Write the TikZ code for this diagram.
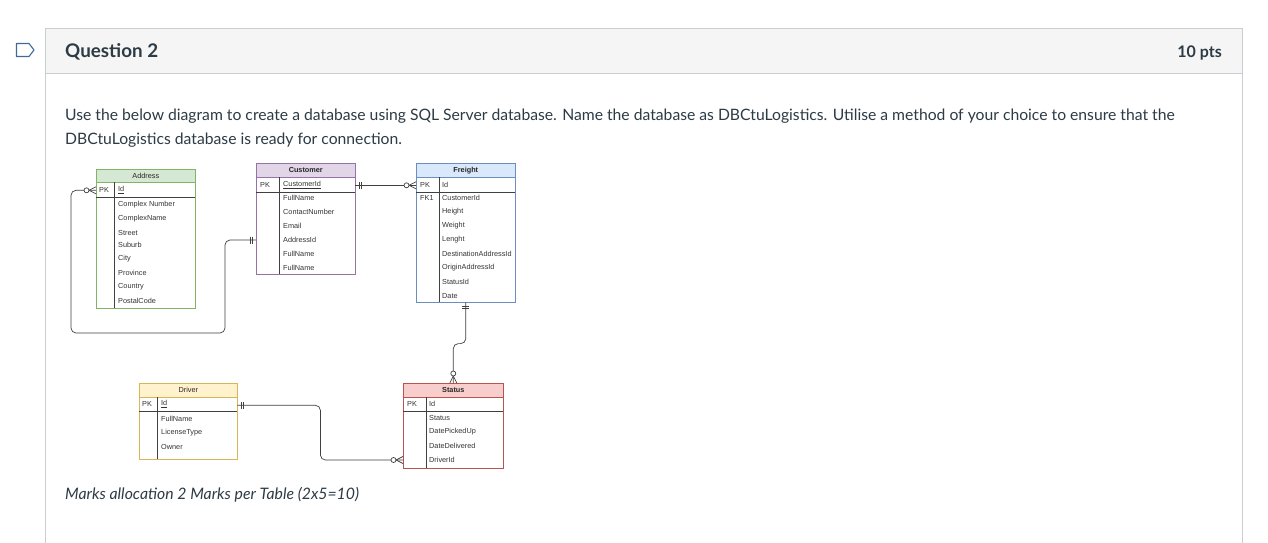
\documentclass[tikz,border=0pt]{standalone}
\usepackage{fontspec}
\setmainfont{Lato}
\newfontfamily\erdfont{Liberation Sans}
\usetikzlibrary{positioning}

\definecolor{inkgray}{HTML}{2D3B45}
\definecolor{framegray}{HTML}{C7CDD1}
\definecolor{bandgray}{HTML}{F5F5F5}
\definecolor{iconblue}{HTML}{3E6C96}
\definecolor{adrfill}{HTML}{D5E8D4}\definecolor{adrline}{HTML}{82B366}
\definecolor{cusfill}{HTML}{E1D5E7}\definecolor{cusline}{HTML}{9673A6}
\definecolor{frtfill}{HTML}{DAE8FC}\definecolor{frtline}{HTML}{6C8EBF}
\definecolor{drvfill}{HTML}{FFF2CC}\definecolor{drvline}{HTML}{D6B656}
\definecolor{stsfill}{HTML}{F8CECC}\definecolor{stsline}{HTML}{B85450}

\newcommand\erdsize{\erdfont\fontsize{7.3}{8}\selectfont}

\tikzset{
  frame/.style={draw=framegray, line width=1pt},
  tbox/.style={draw, line width=0.6pt, inner sep=0pt, anchor=north west},
  thead/.style={draw, line width=0.6pt, inner sep=0pt, anchor=north west,
                font=\erdsize, text=black!85},
  krow/.style={inner sep=0pt, anchor=north west, minimum height=15pt},
  ftext/.style={anchor=west, inner sep=0pt, font=\erdsize, text=black!80},
  rule/.style={draw=black!75, line width=0.7pt},
  conn/.style={draw=black!75, line width=0.7pt, rounded corners=5pt},
  zmany/.pic={
    \draw[black!75, line width=0.7pt] (-7,0) -- (0,3.5) (-7,0) -- (0,-3.5);
    \draw[black!75, line width=0.7pt, fill=white] (-9.5,0) circle (2.5pt);
  },
  one/.pic={
    \draw[black!75, line width=0.7pt] (-3.5,-3.5) -- (-3.5,3.5)
                                      (-5.8,-3.5) -- (-5.8,3.5);
  }
}

\begin{document}
\begin{tikzpicture}[x=1pt, y=-1pt]
  \useasboundingbox[fill=white] (0,0) rectangle (1268,543);

  % question frame
  \draw[frame, fill=bandgray] (45,29) rectangle (1242,73);
  \draw[frame] (45,73) -- (45,543) (1242,73) -- (1242,543);
  \draw[iconblue, line width=1.1pt, line join=round]
    (16.5,43.5) -- (29,43.5) -- (34,50) -- (29,56.5) -- (16.5,56.5) -- cycle;

  \node[anchor=base west, inner sep=0pt, text=inkgray,
        font=\fontsize{18.8}{20}\selectfont\bfseries] (qtitle) at (65,58) {Question 2};
  \node[anchor=base east, inner sep=0pt, text=inkgray,
        font=\fontsize{16}{18}\selectfont\bfseries] (qpts) at (1222,57) {10 pts};

  \node[anchor=base west, inner sep=0pt, align=left, text=inkgray,
        font=\fontsize{15.7}{24}\selectfont] (qtext) at (65,144.5)
    {Use the below diagram to create a database using SQL Server database. Name the database as DBCtuLogistics. Utilise a method of your choice to ensure that the\\
     DBCtuLogistics database is ready for connection.};

  \node[anchor=base west, inner sep=0pt, text=inkgray,
        font=\fontsize{15.8}{18}\selectfont\itshape] (qmarks) at (65,499)
    {Marks allocation 2 Marks per Table (2x5=10)};

  % Address
  \node[tbox, draw=adrline, minimum width=99pt, minimum height=139pt] (adr) at (96,169) {};
  \node[thead, draw=adrline, fill=adrfill, minimum width=99pt, minimum height=13pt] (adr-hd) at (adr.north west) {Address};
  \node[krow, minimum width=99pt] (adr-key) at (adr-hd.south west) {};
  \node[ftext] at (99,190) {PK};
  \node[ftext] at (118,190) {\underline{Id}};
  \draw[rule] (96,197) -- (195,197) (114,182) -- (114,308);
  \foreach \y/\f in {205/Complex Number, 219/ComplexName, 233/Street, 245/Suburb,
                     259/City, 273/Province, 287/Country, 301/PostalCode}
    \node[ftext] at (118,\y) {\f};

  % Customer
  \node[tbox, draw=cusline, minimum width=99pt, minimum height=111pt] (cus) at (256,163) {};
  \node[thead, draw=cusline, fill=cusfill, minimum width=99pt, minimum height=14pt,
        font=\erdsize\bfseries] (cus-hd) at (cus.north west) {Customer};
  \node[krow, minimum width=99pt] (cus-key) at (cus-hd.south west) {};
  \node[ftext] at (260,185) {PK};
  \node[ftext] at (283,185) {\underline{CustomerId}};
  \draw[rule] (256,192) -- (355,192) (279,177) -- (279,274);
  \foreach \y/\f in {198/FullName, 212/ContactNumber, 226/Email,
                     254/FullName, 268/FullName}
    \node[ftext] at (283,\y) {\f};
  \node[ftext] (cus-addr) at (283,240) {AddressId};
  \coordinate (cus-addr-w) at (256,240);

  % Freight
  \node[tbox, draw=frtline, minimum width=99pt, minimum height=139pt] (frt) at (416,163) {};
  \node[thead, draw=frtline, fill=frtfill, minimum width=99pt, minimum height=14pt,
        font=\erdsize\bfseries] (frt-hd) at (frt.north west) {Freight};
  \node[krow, minimum width=99pt] (frt-key) at (frt-hd.south west) {};
  \node[ftext] at (420,185) {PK};
  \node[ftext] at (442,185) {Id};
  \node[ftext] at (420,198) {FK1};
  \draw[rule] (416,192) -- (515,192) (439,177) -- (439,302);
  \foreach \y/\f in {198/CustomerId, 212/Height, 226/Weight, 240/Lenght,
                     254/DestinationAddressId, 268/OriginAddressId, 282/StatusId, 296/Date}
    \node[ftext] at (442,\y) {\f};

  % Driver
  \node[tbox, draw=drvline, minimum width=98pt, minimum height=76pt] (drv) at (139,383) {};
  \node[thead, draw=drvline, fill=drvfill, minimum width=98pt, minimum height=14pt] (drv-hd) at (drv.north west) {Driver};
  \node[krow, minimum width=98pt] (drv-key) at (drv-hd.south west) {};
  \node[ftext] at (142,404) {PK};
  \node[ftext] at (161,404) {\underline{Id}};
  \draw[rule] (139,411) -- (237,411) (157,397) -- (157,459);
  \foreach \y/\f in {419/FullName, 433/LicenseType, 447/Owner}
    \node[ftext] at (161,\y) {\f};

  % Status
  \node[tbox, draw=stsline, minimum width=100pt, minimum height=85pt] (sts) at (403,383) {};
  \node[thead, draw=stsline, fill=stsfill, minimum width=100pt, minimum height=14pt,
        font=\erdsize\bfseries] (sts-hd) at (sts.north west) {Status};
  \node[krow, minimum width=100pt] (sts-key) at (sts-hd.south west) {};
  \node[ftext] at (407,404) {PK};
  \node[ftext] at (429,404) {Id};
  \draw[rule] (403,411) -- (503,411) (426,397) -- (426,468);
  \foreach \y/\f in {418/Status, 432/DatePickedUp, 446/DateDelivered}
    \node[ftext] at (429,\y) {\f};
  \node[ftext] (sts-drv) at (429,460) {DriverId};
  \coordinate (sts-drv-w) at (403,460);

  % Relationships
  \coordinate (adr-bend) at (225,333);
  \draw[conn] (cus-key.east) -- (frt-key.west);
  \draw[conn] (adr-key.west) -- ++(-25,0) |- (adr-bend) |- (cus-addr-w);
  \draw[conn] (frt.south) -- ++(0,41) -| (sts.north);
  \draw[conn] (drv-key.east) -- ++(83,0) |- (sts-drv-w);

  % Cardinality marks
  \pic[rotate=180] at (cus-key.east) {one};
  \pic at (frt-key.west) {zmany};
  \pic at (adr-key.west) {zmany};
  \pic at (cus-addr-w) {one};
  \pic[rotate=90] at (frt.south) {one};
  \pic[rotate=-90] at (sts.north) {zmany};
  \pic[rotate=180] at (drv-key.east) {one};
  \pic at (sts-drv-w) {zmany};
\end{tikzpicture}
\end{document}
